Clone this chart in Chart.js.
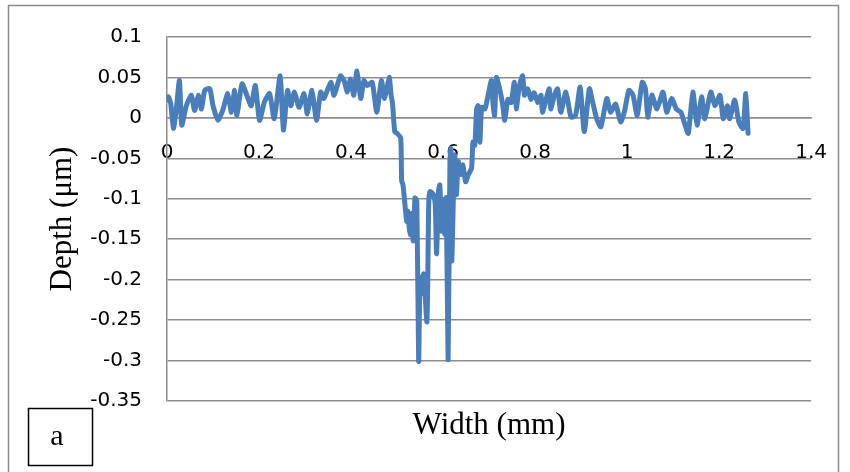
<!DOCTYPE html>
<html>
<head>
<meta charset="utf-8">
<script src="https://cdn.jsdelivr.net/npm/chart.js@4/dist/chart.umd.min.js"></script>
<style>
  html, body { margin: 0; padding: 0; background: #fff; }
  #wrap { width: 850px; height: 472px; }
</style>
</head>
<body>
<div id="wrap"><canvas id="profile"></canvas></div>
<script>
// surface profile across the scratch
const widthMm = [
  0.000, 0.003, 0.008, 0.014, 0.020, 0.027, 0.032, 0.042, 0.053, 0.060,
  0.068, 0.075, 0.082, 0.093, 0.100, 0.111, 0.122, 0.132, 0.140, 0.147,
  0.152, 0.163, 0.176, 0.183, 0.192, 0.201, 0.212, 0.223, 0.233, 0.246,
  0.253, 0.262, 0.269, 0.277, 0.287, 0.298, 0.305, 0.315, 0.325, 0.334,
  0.341, 0.356, 0.363, 0.377, 0.385, 0.392, 0.399, 0.406, 0.413, 0.421,
  0.428, 0.435, 0.446, 0.456, 0.466, 0.473, 0.483, 0.487, 0.490, 0.495,
  0.500, 0.508, 0.510, 0.513, 0.521, 0.523, 0.528, 0.532, 0.535, 0.539,
  0.543, 0.547, 0.550, 0.554, 0.558, 0.565, 0.569, 0.572, 0.579, 0.583,
  0.586, 0.590, 0.593, 0.597, 0.600, 0.604, 0.607, 0.611, 0.615, 0.617,
  0.619, 0.625, 0.629, 0.633, 0.638, 0.643, 0.649, 0.655, 0.662, 0.665,
  0.669, 0.673, 0.676, 0.680, 0.684, 0.691, 0.698, 0.705, 0.709, 0.712,
  0.716, 0.723, 0.730, 0.734, 0.741, 0.748, 0.755, 0.759, 0.766, 0.773,
  0.777, 0.784, 0.791, 0.798, 0.806, 0.813, 0.816, 0.824, 0.831, 0.834,
  0.842, 0.849, 0.856, 0.867, 0.878, 0.888, 0.898, 0.907, 0.918, 0.925,
  0.934, 0.943, 0.956, 0.964, 0.975, 0.986, 0.994, 1.004, 1.013, 1.022,
  1.033, 1.040, 1.045, 1.054, 1.065, 1.078, 1.086, 1.097, 1.107, 1.117,
  1.124, 1.133, 1.143, 1.152, 1.162, 1.169, 1.182, 1.191, 1.202, 1.209,
  1.218, 1.223, 1.234, 1.243, 1.252, 1.258, 1.263
];
const depthUm = [
  0.022, 0.026, 0.018, -0.013, 0.010, 0.046, -0.009, 0.015, 0.028, 0.009,
  0.028, 0.011, 0.034, 0.036, 0.015, -0.003, 0.011, 0.030, 0.007, 0.034,
  0.003, 0.042, 0.024, 0.015, 0.040, -0.003, 0.020, 0.030, -0.001, 0.052,
  -0.015, 0.034, 0.015, 0.032, 0.013, 0.030, 0.005, 0.034, -0.003, 0.032,
  0.024, 0.044, 0.028, 0.052, 0.046, 0.032, 0.048, 0.028, 0.058, 0.024,
  0.046, 0.040, 0.044, 0.007, 0.046, 0.024, 0.050, 0.028, 0.019, -0.017,
  -0.019, -0.025, -0.078, -0.083, -0.128, -0.115, -0.144, -0.118, -0.152, -0.099,
  -0.103, -0.301, -0.197, -0.217, -0.193, -0.252, -0.103, -0.091, -0.095, -0.107,
  -0.168, -0.091, -0.083, -0.140, -0.101, -0.144, -0.099, -0.299, -0.054, -0.038,
  -0.177, -0.046, -0.095, -0.054, -0.070, -0.058, -0.079, -0.070, -0.062, -0.030,
  -0.034, 0.011, 0.015, -0.030, 0.013, 0.011, 0.028, 0.046, 0.015, 0.003,
  0.050, 0.036, 0.015, -0.003, 0.023, 0.019, 0.044, 0.011, 0.040, 0.052,
  0.028, 0.036, 0.023, 0.031, 0.019, 0.028, 0.007, 0.023, 0.036, 0.011,
  0.028, 0.036, 0.007, 0.032, 0.001, 0.003, 0.038, -0.017, 0.036, 0.020,
  -0.001, -0.011, 0.024, 0.007, 0.017, -0.005, 0.007, 0.034, 0.028, 0.003,
  0.044, 0.036, 0.001, 0.028, 0.011, 0.032, 0.007, 0.024, 0.011, 0.007,
  -0.005, -0.019, 0.032, -0.009, 0.026, -0.001, 0.032, 0.015, 0.028, -0.001,
  0.015, -0.001, 0.022, -0.005, -0.013, 0.030, -0.019
];

const xTitle = 'Width (mm)';
const yTitle = 'Depth (\u03bcm)';
const panelLabel = 'a';

const gridGrey = '#8d8d8d';
const tickFont = { family: 'DejaVu Sans', size: 20 };
const serif = 'Liberation Serif';

// outer frame, x title and the little "a" box
const decorations = {
  id: 'decorations',
  afterDraw(chart) {
    const ctx = chart.ctx;
    const area = chart.chartArea;
    ctx.save();
    ctx.strokeStyle = '#8a8a8a';
    ctx.lineWidth = 1.5;
    ctx.strokeRect(8.5, 5.5, 830, 470);

    ctx.fillStyle = '#000';
    ctx.font = '31px ' + serif;
    ctx.textAlign = 'center';
    ctx.textBaseline = 'middle';
    ctx.fillText(xTitle, (area.left + area.right) / 2, 426);

    ctx.strokeStyle = '#000';
    ctx.lineWidth = 1.5;
    ctx.strokeRect(28.5, 408.5, 64, 57);
    ctx.font = '30px ' + serif;
    ctx.fillText(panelLabel, 57, 437);
    ctx.restore();
  }
};

new Chart(document.getElementById('profile'), {
  type: 'line',
  data: {
    datasets: [{
      data: widthMm.map((w, i) => ({ x: w, y: depthUm[i] })),
      borderColor: '#4a7ebb',
      borderWidth: 5,
      borderCapStyle: 'round',
      borderJoinStyle: 'round',
      pointRadius: 0,
      tension: 0.2,
      fill: false
    }]
  },
  options: {
    responsive: true,
    maintainAspectRatio: false,
    animation: false,
    layout: { padding: { left: 30, top: 35, right: 35, bottom: 71 } },
    plugins: {
      legend: { display: false },
      tooltip: { enabled: false }
    },
    scales: {
      x: {
        type: 'linear',
        position: { y: 0 },
        min: 0,
        max: 1.4,
        afterFit: (s) => { s.height = 0; },
        grid: { display: false, drawTicks: false },
        border: { display: true, color: gridGrey, width: 1.5 },
        ticks: {
          stepSize: 0.2,
          padding: 23,
          color: '#000',
          font: tickFont,
          maxRotation: 0,
          callback: (v) => String(+v.toFixed(1))
        }
      },
      y: {
        min: -0.35,
        max: 0.1,
        afterFit: (s) => { s.width = 137; },
        grid: { color: gridGrey, lineWidth: 1.5, drawTicks: false },
        border: { display: true, color: gridGrey, width: 1.5 },
        ticks: {
          stepSize: 0.05,
          padding: 25,
          color: '#000',
          font: tickFont,
          callback: (v) => String(+v.toFixed(2))
        },
        title: {
          display: true,
          text: yTitle,
          color: '#000',
          font: { family: serif, size: 31 },
          padding: { top: 14, bottom: 0 }
        }
      }
    }
  },
  plugins: [decorations]
});
</script>
</body>
</html>
